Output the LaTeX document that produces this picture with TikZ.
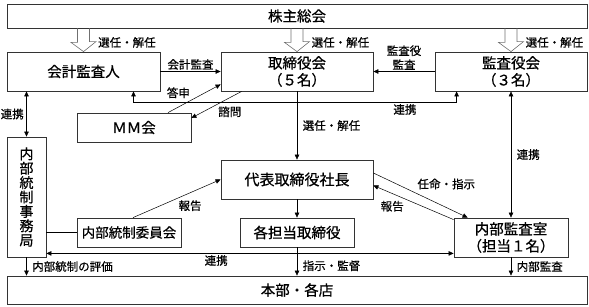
\documentclass[tikz,border=0pt]{standalone}
\usepackage{fontspec}
\setmainfont{Noto Sans CJK JP}[RawFeature={embolden=0.6}]
\definecolor{orgLine}{HTML}{333333}
\definecolor{orgGray}{HTML}{707070}
\usetikzlibrary{arrows.meta, positioning, calc}

\begin{document}
\begin{tikzpicture}[
  x=1pt, y=-1pt,
  every node/.style={font=\fontsize{11.5}{14}\selectfont, inner sep=1.5pt},
  orgbox/.style={draw=orgLine, line width=0.8pt, fill=white, align=center,
    inner sep=0pt, font=\fontsize{14.5}{17}\selectfont},
  lab/.style={right, xshift=4pt},
  link/.style={draw=black, line width=0.5pt, -{Triangle[length=5pt,width=4.5pt]}},
  link2/.style={link, {Triangle[length=5pt,width=4.5pt]}-{Triangle[length=5pt,width=4.5pt]}},
  hollow/.style={draw=orgGray, line width=0.6pt, line join=miter}]
  \useasboundingbox (0,0) rectangle (589,306);
  % Boxes
  \node[orgbox, minimum width=580pt, minimum height=24pt] (soukai) at (297,16) {株主総会};
  \node[orgbox, minimum width=153pt, minimum height=39pt] (kaikei) at (83.5,71.5) {会計監査人};
  \node[orgbox, minimum width=152pt, minimum height=39pt] (torishimari) at (297,71.5) {取締役会\\（５名）};
  \node[orgbox, minimum width=152pt, minimum height=39pt] (kansa) at (511,71.5) {監査役会\\（３名）};
  \node[orgbox, minimum width=114pt, minimum height=29pt] (mm) at (134,127.5) {ＭＭ会};
  \node[orgbox, minimum width=39pt, minimum height=120pt,
    font=\fontsize{14}{14.4}\selectfont] (jimukyoku) at (26.5,197) {内\\部\\統\\制\\事\\務\\局};
  \node[orgbox, minimum width=152pt, minimum height=39pt,
    font=\fontsize{15}{17}\selectfont] (shachou) at (297,179.5) {代表取締役社長};
  \node[orgbox, minimum width=104pt, minimum height=29pt,
    font=\fontsize{13.5}{17}\selectfont] (iinkai) at (129,232.5) {内部統制委員会};
  \node[orgbox, minimum width=114pt, minimum height=29pt] (tantou) at (297,232.5) {各担当取締役};
  \node[orgbox, minimum width=114pt, minimum height=39pt] (naibu) at (511,237.5) {内部監査室\\（担当１名）};
  \node[orgbox, minimum width=580pt, minimum height=28pt] (honbu) at (297,290) {本部・各店};
  % Hollow arrows from the general meeting
  \foreach \n in {kaikei, torishimari, kansa} {
    \draw[hollow] ($(soukai.south -| \n.north)+(-6,0)$) -- ++(0,14) -- ++(-6.5,0)
      -- (\n.north) -- ++(12.5,-10) -- ++(-6.5,0) -- ($(soukai.south -| \n.north)+(6,0)$);
    \node[anchor=west] (sel-\n) at ($(soukai.south -| \n.north)+(13,14)$) {選任・解任};
  }
  % Audit and cooperation
  \draw[link] (kaikei.east) -- node[above] {会計監査} (torishimari.west);
  \draw[link] (kansa.west) -- node[above, align=center] {監査役\\監査} (torishimari.east);
  \draw[link2] ([xshift=50pt]kaikei.south) -- ++(0,11)
    -| node[pos=0.42, below] {連携} ([xshift=22pt]kansa.south west);
  \draw[link2] (kaikei.south -| jimukyoku.north) -- node[midway, left, xshift=-1pt] {連携} (jimukyoku.north);
  \draw[link2] (kansa.south) -- node[midway, lab] {連携} (naibu.north);
  % MM meeting
  \draw[link] ([xshift=34pt]mm.north) -- node[pos=0.45, above left] {答申} ([yshift=7pt]torishimari.south west);
  \draw[link] ([xshift=21pt]torishimari.south west) -- node[midway, below right] {諮問} ([yshift=9.5pt]mm.east);
  % Chain of command
  \draw[link] (torishimari.south) -- node[midway, lab] {選任・解任} (shachou.north);
  \draw[link] (shachou.south) -- (tantou.north);
  \draw[link] (tantou.south) -- node[pos=0.65, lab] {指示・監督} (tantou.south |- honbu.north);
  \draw[link] ([yshift=6.5pt]shachou.east) -- node[pos=0.45, above right, yshift=2pt] {任命・指示} ([xshift=14pt]naibu.north west);
  \draw[link] ([yshift=-2pt]naibu.north west) -- node[pos=0.6, below left] {報告} ([yshift=-6pt]shachou.east);
  % Internal control
  \draw[link] ([xshift=4pt]iinkai.north) -- node[midway, below right] {報告} (shachou.west);
  \draw[line width=0.5pt] (iinkai.west) -- (iinkai.west -| jimukyoku.east);
  \coordinate (renkei) at ([yshift=4pt]naibu.south west);
  \draw[link2] (renkei -| jimukyoku.east) -- node[pos=0.417, below] {連携} (renkei);
  % To the branches
  \draw[link] (jimukyoku.south) -- node[midway, lab] {内部統制の評価} (jimukyoku.south |- honbu.north);
  \draw[link] (naibu.south) -- node[midway, lab] {内部監査} (naibu.south |- honbu.north);
\end{tikzpicture}
\end{document}
